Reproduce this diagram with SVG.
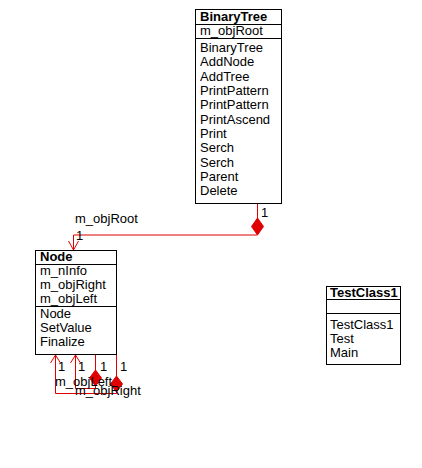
<svg xmlns="http://www.w3.org/2000/svg" width="422" height="468" viewBox="0 0 422 468">
<style>
.box{fill:#fff;stroke:#000;stroke-width:1}
.ln{stroke:#000;stroke-width:1}
text{font-family:"Liberation Sans",Arial,sans-serif;font-size:13px;fill:#000}
.hd{font-weight:bold}
.c{fill:none;stroke:#e00000;stroke-width:1}
.d{fill:#e00000;stroke:#e00000;stroke-width:1}
</style>
<rect width="422" height="468" fill="#fff"/>
<g id="connectors">
<path class="c" d="M257.5,203 V218 M257.5,235 H73.5 V250"/>
<polygon class="d" points="257.5,218 263.5,226.5 257.5,235 251.5,226.5"/>
<path class="c" d="M68.5,241 L73.5,250 L78.5,241"/>
<path class="c" d="M95.5,354 V370 M95.5,386 V388.5 H75.5 V354"/>
<polygon class="d" points="95.5,370 101.5,378 95.5,386 89.5,378"/>
<path class="c" d="M70.5,363 L75.5,355 L80.5,363"/>
<path class="c" d="M116.5,354 V376 M116.5,392 V393.5 H55.5 V354"/>
<polygon class="d" points="116.5,376 122.5,384 116.5,392 110.5,384"/>
<path class="c" d="M50.5,363 L55.5,355 L60.5,363"/>
<text x="261" y="217">1</text>
<text x="76" y="240">1</text>
<text x="75" y="223">m_objRoot</text>
<text x="58" y="371">1</text>
<text x="78" y="371">1</text>
<text x="100" y="371">1</text>
<text x="120" y="371">1</text>
<text x="55" y="386">m_objLeft</text>
<text x="75" y="395">m_objRight</text>
</g>
<g id="BinaryTree">
<rect class="box" x="195.5" y="9.5" width="86" height="194"/>
<line class="ln" x1="195.5" y1="24.5" x2="281.5" y2="24.5"/>
<line class="ln" x1="195.5" y1="38.5" x2="281.5" y2="38.5"/>
<text class="hd" x="200" y="21">BinaryTree</text>
<text x="200" y="35">m_objRoot</text>
<text x="200" y="52">BinaryTree</text>
<text x="200" y="66">AddNode</text>
<text x="200" y="80.5">AddTree</text>
<text x="200" y="95">PrintPattern</text>
<text x="200" y="109">PrintPattern</text>
<text x="200" y="123.5">PrintAscend</text>
<text x="200" y="138">Print</text>
<text x="200" y="152">Serch</text>
<text x="200" y="166.5">Serch</text>
<text x="200" y="181">Parent</text>
<text x="200" y="195">Delete</text>
</g>
<g id="Node">
<rect class="box" x="35.5" y="250.5" width="81" height="104"/>
<line class="ln" x1="35.5" y1="264.5" x2="116.5" y2="264.5"/>
<line class="ln" x1="35.5" y1="306.5" x2="116.5" y2="306.5"/>
<text class="hd" x="40" y="261">Node</text>
<text x="40" y="275">m_nInfo</text>
<text x="40" y="289">m_objRight</text>
<text x="40" y="303">m_objLeft</text>
<text x="40" y="318">Node</text>
<text x="40" y="332">SetValue</text>
<text x="40" y="346">Finalize</text>
</g>
<g id="TestClass1">
<rect class="box" x="326.5" y="286.5" width="74" height="78"/>
<line class="ln" x1="326.5" y1="299.5" x2="400.5" y2="299.5"/>
<line class="ln" x1="326.5" y1="313.5" x2="400.5" y2="313.5"/>
<text class="hd" x="330" y="297">TestClass1</text>
<text x="330" y="329">TestClass1</text>
<text x="330" y="343">Test</text>
<text x="330" y="357">Main</text>
</g>
</svg>
